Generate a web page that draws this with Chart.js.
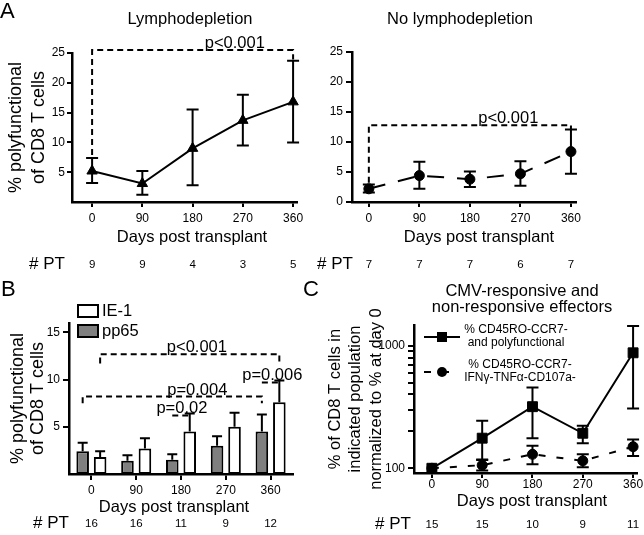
<!DOCTYPE html>
<html><head><meta charset="utf-8"><title>Polyfunctional CD8 T cells after transplant</title>
<script src="https://cdn.jsdelivr.net/npm/chart.js@4.4.1/dist/chart.umd.min.js"></script>
<style>
html,body{margin:0;padding:0;background:#fff;width:644px;height:535px;overflow:hidden;position:relative}
canvas{position:absolute;left:0;top:0}
</style></head><body>
<canvas id="panelA1" width="700" height="535"></canvas>
<canvas id="panelA2" width="700" height="535"></canvas>
<canvas id="panelB" width="700" height="535"></canvas>
<canvas id="panelC" width="700" height="535"></canvas>
<script>
// ---------------- data ----------------
const days = [0, 90, 180, 270, 360];
const dayLabels = ['0', '90', '180', '270', '360'];

// Panel A - lymphodepletion
const lymphoMean = [5.2, 3.1, 9.0, 13.7, 16.8];
const lymphoLow  = [3.2, 1.2, 2.8, 9.5, 10.0];
const lymphoHigh = [7.4, 5.2, 15.5, 18.0, 23.7];
const lymphoPT   = [9, 9, 4, 3, 5];
const lymphoYTicks = [5, 10, 15, 20, 25];

// Panel A - no lymphodepletion
const noLymphoMean = [2.2, 4.4, 3.8, 4.7, 8.4];
const noLymphoLow  = [1.6, 2.2, 2.5, 2.7, 4.7];
const noLymphoHigh = [2.9, 6.7, 5.1, 6.8, 12.1];
const noLymphoPT   = [7, 7, 7, 6, 7];
const noLymphoYTicks = [0, 5, 10, 15, 20, 25];

// Panel B - antigen specific
const pp65Mean = [2.4, 1.4, 1.5, 3.0, 4.5];
const pp65High = [3.3, 2.0, 2.1, 4.0, 6.3];
const ie1Mean  = [1.8, 2.7, 4.5, 5.0, 7.6];
const ie1High  = [2.4, 3.8, 6.4, 6.5, 9.9];
const antigenPT = [16, 16, 11, 9, 12];
const antigenYTicks = [5, 10, 15];

// Panel C - normalized effectors (% of day 0)
const polyMean = [100, 176, 318, 193, 875];
const polyLow  = [100, 117, 176, 160, 308];
const polyHigh = [100, 244, 457, 222, 1450];
const negMean  = [100, 106, 130, 115, 150];
const negLow   = [100, 96, 108, 102, 126];
const negHigh  = [100, 118, 153, 130, 172];
const effectorPT = [15, 15, 10, 9, 11];
const effectorYTicks = [100, 200, 300, 400, 500, 600, 700, 800, 900, 1000];
const effectorYLabels = [100, 1000];

// significance annotations (x refs: day value, or [dataset, category])
const lymphoSig = [{from: 0, to: 360, top: 25.5, leftEnd: 7.9, rightEnd: 23.9, label: 'p<0.001', at: 0.71}];
const noLymphoSig = [{from: 0, to: 360, top: 12.8, leftEnd: 3.2, rightEnd: 11.9, label: 'p<0.001', at: 0.69}];
const antigenSig = [
  {from: [1, 0], to: [1, 4], top: 12.7, leftEnd: 11.7, rightEnd: 11.7, label: 'p<0.001', at: 0.54},
  {from: [0, 0], to: [0, 4], top: 8.2, leftEnd: 7.5, rightEnd: 7.5, label: 'p=0.004', at: 0.64},
  {from: [0, 2], to: [1, 2], top: 6.2, leftEnd: 6.2, rightEnd: 6.2, label: 'p=0.02', at: 0.55},
  {from: [0, 4], to: [1, 4], top: 9.7, leftEnd: 9.7, rightEnd: 9.7, label: 'p=0.006', at: 0.6}
];

// ---------------- layout & style ----------------
const FONT = "'Liberation Sans', Arial, Helvetica, sans-serif";
const CW = 700, CH = 535, AXW = 2.5;
Chart.defaults.font.family = FONT;
Chart.defaults.color = '#000';

function padFor(area, yW, xH) {
  return {left: area.left - yW, top: area.top, right: CW - area.right, bottom: CH - area.bottom - xH};
}
function axisY(type, min, max, tickVals, width, title, tl, pad, labelFn, tSize, tLH) {
  return {
    type, min, max,
    afterFit(s) { s.width = width; },
    afterBuildTicks(s) { s.ticks = tickVals.map(v => ({value: v})); },
    border: {display: true, color: '#000', width: AXW},
    grid: {drawOnChartArea: false, drawTicks: true, tickLength: tl, color: '#000', lineWidth: 2},
    ticks: {color: '#000', font: {family: FONT, size: 12}, padding: pad, autoSkip: false,
            callback: labelFn || (v => String(v))},
    title: title ? {display: true, text: title, color: '#000',
                    font: {family: FONT, size: tSize || 16.5, lineHeight: tLH || 1.25}, padding: {top: 0, bottom: 0}}
                 : {display: false}
  };
}
function axisXLinear(min, max, height, tl, pad) {
  return {
    type: 'linear', min, max,
    afterFit(s) { s.height = height; },
    afterBuildTicks(s) { s.ticks = days.map(v => ({value: v})); },
    border: {display: true, color: '#000', width: AXW},
    grid: {drawOnChartArea: false, drawTicks: true, tickLength: tl, color: '#000', lineWidth: 2},
    ticks: {color: '#000', font: {family: FONT, size: 12}, padding: pad, maxRotation: 0, autoSkip: false,
            callback: (v, i) => dayLabels[i]}
  };
}

// ---------------- plugins ----------------
const errorBars = {
  id: 'errorBars',
  afterDatasetsDraw(chart) {
    const ctx = chart.ctx, ys = chart.scales.y;
    chart.data.datasets.forEach((ds, di) => {
      if (!ds.errHigh) return;
      const meta = chart.getDatasetMeta(di);
      ctx.save();
      ctx.strokeStyle = '#000'; ctx.lineWidth = 2; ctx.setLineDash([]);
      meta.data.forEach((el, i) => {
        const top = ys.getPixelForValue(ds.errHigh[i]);
        const bot = ds.errLow ? ys.getPixelForValue(ds.errLow[i]) : el.y;
        if (Math.abs(bot - top) < 0.5) return;
        const x = el.x, h = ds.capHalf || 6;
        ctx.beginPath();
        ctx.moveTo(x, bot); ctx.lineTo(x, top);
        ctx.moveTo(x - h, top); ctx.lineTo(x + h, top);
        if (ds.errLow) { ctx.moveTo(x - h, bot); ctx.lineTo(x + h, bot); }
        ctx.stroke();
      });
      ctx.restore();
    });
  }
};
function brackets(items) {
  return {
    id: 'sigBrackets',
    afterDatasetsDraw(chart) {
      const ctx = chart.ctx, xs = chart.scales.x, ys = chart.scales.y;
      const px = r => Array.isArray(r) ? chart.getDatasetMeta(r[0]).data[r[1]].x : xs.getPixelForValue(r);
      ctx.save();
      items.forEach(b => {
        const x1 = px(b.from), x2 = px(b.to), yt = ys.getPixelForValue(b.top);
        ctx.strokeStyle = '#000'; ctx.lineWidth = 2; ctx.setLineDash([6, 4]);
        ctx.beginPath();
        ctx.moveTo(x1, ys.getPixelForValue(b.leftEnd));
        ctx.lineTo(x1, yt); ctx.lineTo(x2, yt);
        ctx.lineTo(x2, ys.getPixelForValue(b.rightEnd));
        ctx.stroke();
        ctx.setLineDash([]);
        ctx.fillStyle = '#000'; ctx.font = `16.5px ${FONT}`;
        ctx.textAlign = 'center'; ctx.textBaseline = 'alphabetic';
        ctx.fillText(b.label, x1 + b.at * (x2 - x1), yt - 2);
      });
      ctx.restore();
    }
  };
}
function texts(items) {
  return {
    id: 'panelTexts',
    afterDraw(chart) {
      const ctx = chart.ctx;
      ctx.save(); ctx.fillStyle = '#000';
      items.forEach(t => {
        ctx.font = `${t.size}px ${FONT}`;
        ctx.textAlign = t.align || 'center';
        ctx.textBaseline = t.base || 'middle';
        ctx.fillText(t.text, t.x, t.y);
      });
      ctx.restore();
    }
  };
}
function ptRow(counts, rowY) {
  return {
    id: 'ptRow',
    afterDraw(chart) {
      const ctx = chart.ctx, xs = chart.scales.x;
      ctx.save(); ctx.fillStyle = '#000'; ctx.font = `11.5px ${FONT}`;
      ctx.textAlign = 'center'; ctx.textBaseline = 'middle';
      counts.forEach((n, i) => {
        const x = xs.type === 'category' ? xs.getPixelForTick(i) : xs.getPixelForValue(days[i]);
        ctx.fillText(String(n), x, rowY);
      });
      ctx.restore();
    }
  };
}
const boxLegendB = {
  id: 'boxLegend',
  afterDraw(chart) {
    const ctx = chart.ctx, ds = chart.data.datasets;
    const rows = [{d: ds[1], y: 305}, {d: ds[0], y: 325}];
    ctx.save();
    rows.forEach(r => {
      ctx.fillStyle = r.d.backgroundColor; ctx.strokeStyle = '#000'; ctx.lineWidth = 2;
      ctx.fillRect(78, r.y, 20, 12); ctx.strokeRect(78, r.y, 20, 12);
      ctx.fillStyle = '#000'; ctx.font = `16.5px ${FONT}`;
      ctx.textAlign = 'left'; ctx.textBaseline = 'middle';
      ctx.fillText(r.d.label, 102, r.y + 6.5);
    });
    ctx.restore();
  }
};
const lineLegendC = {
  id: 'lineLegend',
  afterDraw(chart) {
    const ctx = chart.ctx, ds = chart.data.datasets;
    const rows = [{d: ds[0], y: 337, lines: ['% CD45RO-CCR7-', 'and polyfunctional'], ty: [330, 343], tx: 516},
                  {d: ds[1], y: 372, lines: ['% CD45RO-CCR7-', 'IFNγ-TNFα-CD107a-'], ty: [365, 378], tx: 520}];
    ctx.save();
    rows.forEach(r => {
      ctx.strokeStyle = '#000'; ctx.lineWidth = 2;
      ctx.setLineDash(r.d.borderDash || []);
      ctx.beginPath(); ctx.moveTo(424, r.y); ctx.lineTo(460, r.y); ctx.stroke();
      ctx.setLineDash([]);
      ctx.fillStyle = '#000';
      if (r.d.pointStyle === 'rect') ctx.fillRect(437, r.y - 5, 10, 10);
      else { ctx.beginPath(); ctx.arc(442, r.y, 5, 0, Math.PI * 2); ctx.fill(); }
      ctx.font = `12px ${FONT}`; ctx.textAlign = 'center'; ctx.textBaseline = 'middle';
      r.lines.forEach((l, k) => ctx.fillText(l, r.tx, r.ty[k]));
    });
    ctx.restore();
  }
};

const common = {responsive: false, animation: false, events: [],
  plugins: {legend: {display: false}, tooltip: {enabled: false}}};

// ---------------- Panel A1 ----------------
new Chart(document.getElementById('panelA1'), {
  type: 'line',
  data: {datasets: [{
    label: 'Lymphodepletion',
    data: days.map((d, i) => ({x: d, y: lymphoMean[i]})),
    errLow: lymphoLow, errHigh: lymphoHigh, capHalf: 6,
    borderColor: '#000', borderWidth: 2, tension: 0, clip: false,
    pointStyle: 'triangle', pointRadius: 6, pointBackgroundColor: '#000', pointBorderColor: '#000', pointBorderWidth: 1
  }]},
  options: Object.assign({}, common, {
    layout: {padding: padFor({left: 72, top: 53, right: 297, bottom: 202}, 67, 30)},
    scales: {
      x: axisXLinear(-36, 367, 30, 5, 4),
      y: axisY('linear', 0, 25, lymphoYTicks, 67, ['% polyfunctional', 'of CD8 T cells'], 5, 2, null, 18, 1.25)
    }
  }),
  plugins: [errorBars, brackets(lymphoSig), ptRow(lymphoPT, 265), texts([
    {text: 'A', x: 0, y: 18, size: 22, align: 'left', base: 'alphabetic'},
    {text: 'Lymphodepletion', x: 190, y: 19, size: 16.5},
    {text: 'Days post transplant', x: 192, y: 237, size: 16.5},
    {text: '# PT', x: 29, y: 264, size: 17, align: 'left'}
  ])]
});

// ---------------- Panel A2 ----------------
new Chart(document.getElementById('panelA2'), {
  type: 'line',
  data: {datasets: [{
    label: 'No lymphodepletion',
    data: days.map((d, i) => ({x: d, y: noLymphoMean[i]})),
    errLow: noLymphoLow, errHigh: noLymphoHigh, capHalf: 6,
    borderColor: '#000', borderWidth: 2, borderDash: [17, 13], tension: 0, clip: false,
    pointStyle: 'circle', pointRadius: 5, pointBackgroundColor: '#000', pointBorderColor: '#000', pointBorderWidth: 1
  }]},
  options: Object.assign({}, common, {
    layout: {padding: padFor({left: 352, top: 52, right: 576, bottom: 202}, 30, 30)},
    scales: {
      x: axisXLinear(-30, 369, 30, 5, 4),
      y: axisY('linear', 0, 25, noLymphoYTicks, 30, null, 6, 3)
    }
  }),
  plugins: [errorBars, brackets(noLymphoSig), ptRow(noLymphoPT, 265), texts([
    {text: 'No lymphodepletion', x: 460, y: 19, size: 16.5},
    {text: 'Days post transplant', x: 479, y: 237, size: 16.5},
    {text: '# PT', x: 317, y: 264, size: 17, align: 'left'}
  ])]
});

// ---------------- Panel B ----------------
new Chart(document.getElementById('panelB'), {
  type: 'bar',
  data: {labels: dayLabels, datasets: [
    {label: 'pp65', data: pp65Mean, errHigh: pp65High, capHalf: 5,
     backgroundColor: '#7f7f7f', borderColor: '#000', borderWidth: 2, borderSkipped: false,
     categoryPercentage: 0.78, barPercentage: 0.72},
    {label: 'IE-1', data: ie1Mean, errHigh: ie1High, capHalf: 5,
     backgroundColor: '#ffffff', borderColor: '#000', borderWidth: 2, borderSkipped: false,
     categoryPercentage: 0.78, barPercentage: 0.72}
  ]},
  options: Object.assign({}, common, {
    layout: {padding: padFor({left: 69, top: 323, right: 293, bottom: 474}, 61, 30)},
    scales: {
      x: {type: 'category', offset: true,
          afterFit(s) { s.height = 30; },
          border: {display: true, color: '#000', width: AXW},
          grid: {offset: false, drawOnChartArea: false, drawTicks: true, tickLength: 6, color: '#000', lineWidth: 2},
          ticks: {color: '#000', font: {family: FONT, size: 12}, padding: 3, maxRotation: 0, autoSkip: false}},
      y: axisY('linear', 0, 16, antigenYTicks, 61, ['% polyfunctional', 'of CD8 T cells'], 6, 3, null, 18, 1.12)
    }
  }),
  plugins: [errorBars, brackets(antigenSig), boxLegendB, ptRow(antigenPT, 524), texts([
    {text: 'B', x: 1, y: 296, size: 22, align: 'left', base: 'alphabetic'},
    {text: 'Days post transplant', x: 174, y: 507, size: 16.5},
    {text: '# PT', x: 33, y: 523, size: 17, align: 'left'}
  ])]
});

// ---------------- Panel C ----------------
new Chart(document.getElementById('panelC'), {
  type: 'line',
  data: {datasets: [
    {label: '% CD45RO-CCR7- and polyfunctional',
     data: days.map((d, i) => ({x: d, y: polyMean[i]})),
     errLow: polyLow, errHigh: polyHigh, capHalf: 6,
     borderColor: '#000', borderWidth: 2, tension: 0, clip: false,
     pointStyle: 'rect', pointRadius: 7, pointBackgroundColor: '#000', pointBorderColor: '#000', pointBorderWidth: 1},
    {label: '% CD45RO-CCR7- IFNγ-TNFα-CD107a-',
     data: days.map((d, i) => ({x: d, y: negMean[i]})),
     errLow: negLow, errHigh: negHigh, capHalf: 6,
     borderColor: '#000', borderWidth: 2, borderDash: [7, 11], tension: 0, clip: false,
     pointStyle: 'circle', pointRadius: 5, pointBackgroundColor: '#000', pointBorderColor: '#000', pointBorderWidth: 1}
  ]},
  options: Object.assign({}, common, {
    layout: {padding: padFor({left: 414, top: 325, right: 637, bottom: 473}, 89, 30)},
    scales: {
      x: axisXLinear(-32, 367, 30, 5, -1),
      y: axisY('logarithmic', 91.5, 1475, effectorYTicks, 89,
               ['% of CD8 T cells in', 'indicated population', 'normalized to % at day 0'], 6, 3,
               v => effectorYLabels.includes(v) ? String(v) : '')
    }
  }),
  plugins: [errorBars, lineLegendC, ptRow(effectorPT, 525), texts([
    {text: 'C', x: 303, y: 296, size: 22, align: 'left', base: 'alphabetic'},
    {text: 'CMV-responsive and', x: 522, y: 291, size: 16.5},
    {text: 'non-responsive effectors', x: 522, y: 307, size: 16.5},
    {text: 'Days post transplant', x: 532, y: 501, size: 16.5},
    {text: '# PT', x: 375, y: 524, size: 17, align: 'left'}
  ])]
});
</script></body></html>
